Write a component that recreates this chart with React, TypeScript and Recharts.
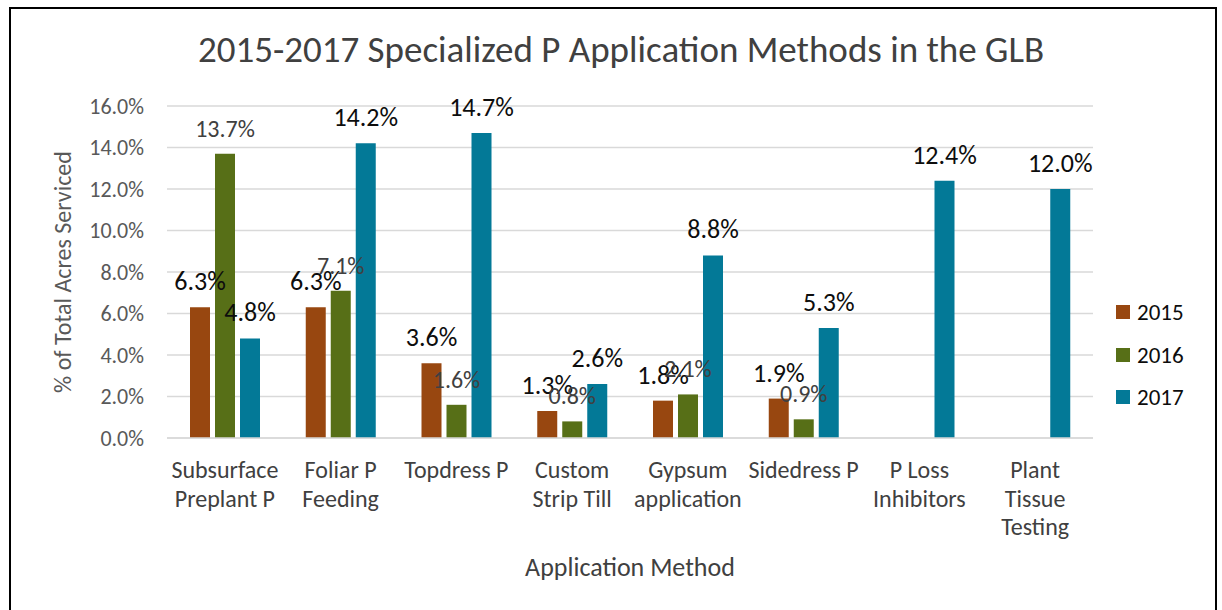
import React from 'react';
import { BarChart, Bar, XAxis, YAxis, CartesianGrid, LabelList } from 'recharts';

const categories = [
  'Subsurface\nPreplant P',
  'Foliar P\nFeeding',
  'Topdress P',
  'Custom\nStrip Till',
  'Gypsum\napplication',
  'Sidedress P',
  'P Loss\nInhibitors',
  'Plant\nTissue\nTesting',
];
const values2015 = [6.3, 6.3, 3.6, 1.3, 1.8, 1.9, null, null];
const values2016 = [13.7, 7.1, 1.6, 0.8, 2.1, 0.9, null, null];
const values2017 = [4.8, 14.2, 14.7, 2.6, 8.8, 5.3, 12.4, 12.0];
const yTicks = [0, 2, 4, 6, 8, 10, 12, 14, 16];
const seriesNames = ['2015', '2016', '2017'];

const COLORS: Record<string, string> = {
  '2015': '#984710',
  '2016': '#576F17',
  '2017': '#037997',
};

const FONT = 'Carlito, Calibri, Lato, sans-serif';

const data = categories.map((name, i) => ({
  name,
  y2015: values2015[i],
  y2016: values2016[i],
  y2017: values2017[i],
}));

const pct = (v: any) => (v === null || v === undefined ? '' : `${Number(v).toFixed(1)}%`);

const CategoryTick = (props: any) => {
  const { x, y, payload } = props;
  const lines = String(payload.value).split('\n');
  return (
    <text x={x} y={y} textAnchor="middle" fill="#404040" fontSize={24} fontFamily={FONT}>
      {lines.map((line, i) => (
        <tspan key={i} x={x} dy={i === 0 ? 32 : 28.5}>
          {line}
        </tspan>
      ))}
    </text>
  );
};

export default function App() {
  return (
    <div style={{ position: 'absolute', left: 0, top: 0, width: 1222, height: 610, overflow: 'hidden', fontFamily: FONT }}>
      <div
        style={{
          position: 'absolute',
          left: 9,
          top: 7,
          width: 1208,
          height: 640,
          border: '2px solid #000',
          boxSizing: 'border-box',
        }}
      />
      <div
        style={{
          position: 'absolute',
          left: 10,
          width: 1222,
          top: 28,
          textAlign: 'center',
          fontSize: 37,
          color: '#404040',
          lineHeight: '44px',
        }}
      >
        2015-2017 Specialized P Application Methods in the GLB
      </div>
      <div style={{ position: 'absolute', left: 0, top: 0 }}>
        <BarChart
          width={1222}
          height={610}
          data={data}
          margin={{ top: 106, right: 129, left: 0, bottom: 0 }}
          barSize={20}
          barGap={5}
        >
          <CartesianGrid vertical={false} stroke="#D9D9D9" strokeWidth={1.5} />
          <XAxis
            dataKey="name"
            height={172}
            interval={0}
            tick={<CategoryTick />}
            axisLine={{ stroke: '#D9D9D9', strokeWidth: 1.5 }}
            tickLine={false}
          />
          <YAxis
            domain={[0, 16]}
            ticks={yTicks}
            tickFormatter={(v: number) => `${v.toFixed(1)}%`}
            axisLine={false}
            tickLine={false}
            width={167}
            tickMargin={17}
            tick={{ fill: '#595959', fontSize: 22, fontFamily: FONT }}
          />
          <Bar dataKey="y2015" name="2015" fill={COLORS['2015']} isAnimationActive={false}>
            <LabelList dataKey="y2015" position="top" offset={17} formatter={pct} fill="#0D0D0D" fontSize={26} fontFamily={FONT} />
          </Bar>
          <Bar dataKey="y2016" name="2016" fill={COLORS['2016']} isAnimationActive={false}>
            <LabelList dataKey="y2016" position="top" offset={17} formatter={pct} fill="#404040" fontSize={24} fontFamily={FONT} />
          </Bar>
          <Bar dataKey="y2017" name="2017" fill={COLORS['2017']} isAnimationActive={false}>
            <LabelList dataKey="y2017" position="top" offset={17} formatter={pct} fill="#0D0D0D" fontSize={26} fontFamily={FONT} />
          </Bar>
        </BarChart>
      </div>
      <div
        style={{
          position: 'absolute',
          left: 62,
          top: 272,
          transform: 'translate(-50%, -50%) rotate(-90deg)',
          whiteSpace: 'nowrap',
          fontSize: 24,
          color: '#595959',
        }}
      >
        % of Total Acres Serviced
      </div>
      <div
        style={{
          position: 'absolute',
          left: 630,
          top: 567,
          transform: 'translate(-50%, -50%)',
          whiteSpace: 'nowrap',
          fontSize: 26,
          color: '#404040',
        }}
      >
        Application Method
      </div>
      {seriesNames.map((s, i) => (
        <div
          key={s}
          style={{
            position: 'absolute',
            left: 1116,
            top: 312 + i * 42.5 - 15,
            height: 30,
            display: 'flex',
            alignItems: 'center',
            fontSize: 23,
            color: '#0D0D0D',
          }}
        >
          <span style={{ width: 14, height: 14, background: COLORS[s], marginRight: 7, display: 'inline-block' }} />
          {s}
        </div>
      ))}
    </div>
  );
}
